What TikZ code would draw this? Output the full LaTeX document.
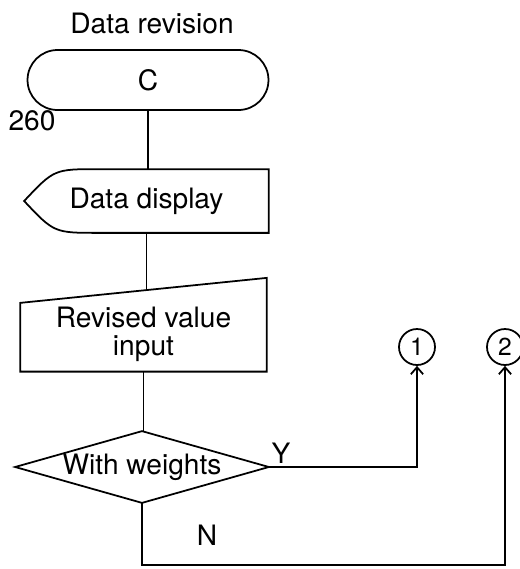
\documentclass[tikz,border=0pt]{standalone}
\usepackage{fontspec}
\setmainfont{TeX Gyre Heros}
\usetikzlibrary{arrows.meta,calc}
\begin{document}
\begin{tikzpicture}[x=0.02cm,y=-0.02cm,line width=1pt,
  every node/.style={font=\fontsize{16}{16}\selectfont},
  box/.style={inner sep=0pt,align=center},
  conn/.style={circle,draw,inner sep=0pt,minimum size=0.72cm,font=\fontsize{14}{14}\selectfont},
  arr/.style={-{Straight Barb[length=4pt,width=7pt]}}]
  \useasboundingbox (0,0) rectangle (520,569);
  \node (title) at (152,23) {Data revision};
  \node[box,draw,rounded corners=0.6cm,minimum width=4.82cm,minimum height=1.2cm] (term) at (148,80) {C};
  \node (num) at (32,121) {260};
  \node[box,minimum width=4.86cm,minimum height=1.24cm] (disp) at (146.5,201) {Data display};
  \draw (disp.north east) -- (disp.south east) -- ([xshift=1.5cm]disp.south west)
    .. controls ([xshift=0.6cm]disp.south west) .. (disp.west)
    .. controls ([xshift=0.6cm]disp.north west) .. ([xshift=1.5cm]disp.north west) -- cycle;
  \node[box,minimum width=4.9cm,minimum height=1.59cm,text depth=-0.08cm] (inp) at (143.5,331) {Revised value\\input};
  \draw ([yshift=-0.25cm]inp.north west) -- ([yshift=0.25cm]inp.north east) -- (inp.south east) -- (inp.south west) -- cycle;
  \node[box,minimum width=5.04cm,minimum height=1.4cm] (dec) at (142,467) {With weights};
  \draw (dec.north) -- (dec.east) -- (dec.south) -- (dec.west) -- cycle;
  \node[conn] (c1) at (417,347) {1};
  \node[conn] (c2) at (505,347) {2};
  \node (yes) at (281,453) {Y};
  \node (no) at (207,535) {N};
  \coordinate (nturn) at (142,565);
  \draw (term.south) -- (term.south |- disp.north);
  \draw (disp.south) -- (disp.south |- inp.north);
  \draw (inp.south) -- (inp.south |- dec.north);
  \draw[arr] (dec.east) -| (c1.south);
  \draw[arr] (dec.south) -- (nturn) -| (c2.south);
\end{tikzpicture}
\end{document}
